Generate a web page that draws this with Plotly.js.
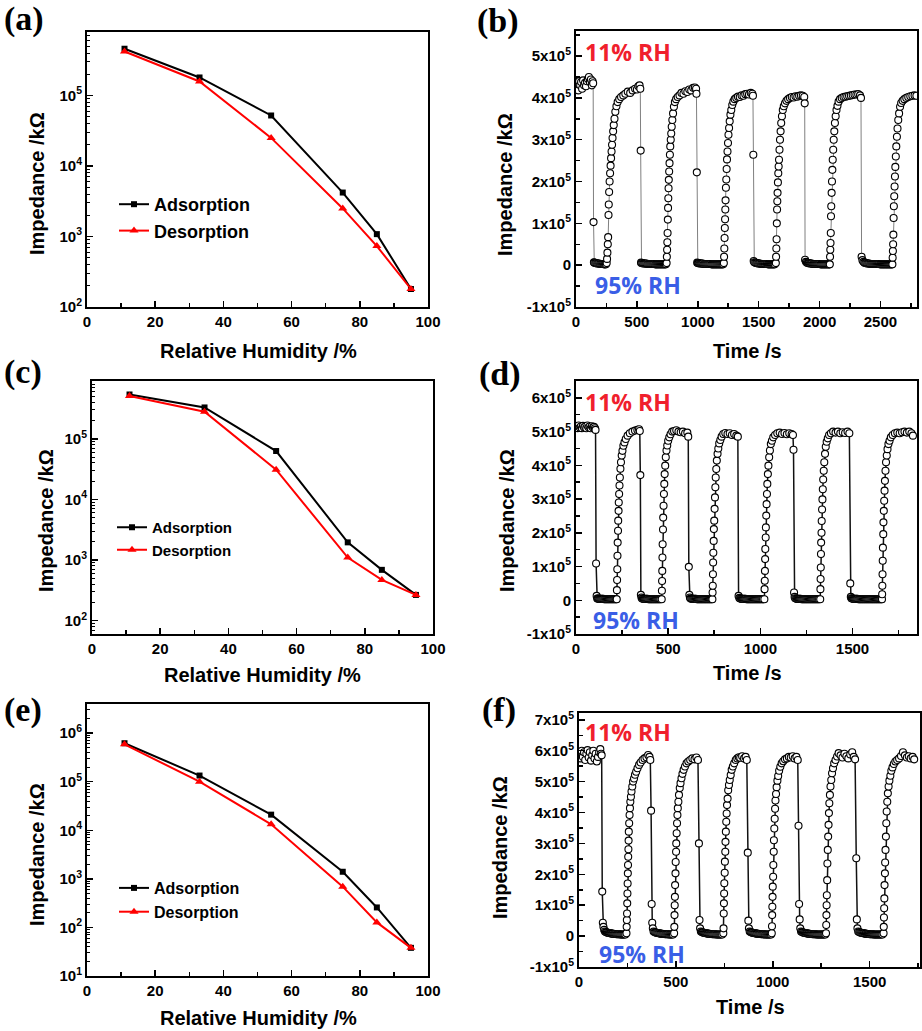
<!DOCTYPE html>
<html><head><meta charset="utf-8">
<script src="https://cdn.plot.ly/plotly-3.0.1.min.js"></script>
<style>html,body{margin:0;padding:0;background:#fff}#chart{width:922px;height:1031px}</style>
</head><body><div id="chart"></div><script>
// ---------- DATA ----------
const rh = [11, 33, 54, 75, 85, 95];
const aAds = [4.6e5, 1.8e5, 5.2e4, 4.2e3, 1.08e3, 180];
const aDes = [4.2e5, 1.58e5, 2.5e4, 2.5e3, 730, 180];
const cAds = [5.4e5, 3.3e5, 6.3e4, 1.96e3, 690, 266];
const cDes = [5.1e5, 2.8e5, 3.1e4, 1.1e3, 470, 266];
const eAds = [6.2e5, 1.34e5, 2.1e4, 1.4e3, 258, 38];
const eDes = [5.9e5, 1.0e5, 1.33e4, 690, 127, 38];
const legendNames = ['Adsorption', 'Desorption'];

// impedance in units of 1x10^5 kOhm
const bTime = [
 2,10,18,26,34,42,50,58,66,74,82,90,98,106,114,122,130,136,141,
 144,147,
 150,158,166,174,182,190,198,206,214,222,230,238,246,
 252,255,258,261,264,267,269,272,276,280,284,288,292,296,300,305,310,316,323,332,342,355,370,388,405,425,445,465,485,500,512,522,528,
 531,534,
 538,546,554,562,570,578,586,594,602,610,618,626,634,642,650,658,666,674,682,690,698,706,714,722,730,738,
 744,746,748,750,752,754,756,758,760,762,765,768,771,774,778,782,786,791,797,804,812,822,835,850,866,882,898,914,930,946,962,976,986,989,
 992,995,
 1000,1008,1016,1024,1032,1040,1048,1056,1064,1072,1080,1088,1096,1104,1112,1120,1128,1136,1144,1152,1160,1168,1176,1184,1192,1200,1208,
 1214,1216,1218,1220,1222,1224,1226,1228,1231,1234,1237,1240,1244,1248,1252,1257,1262,1268,1275,1283,1292,1303,1316,1330,1345,1360,1375,1390,1405,1420,1435,1448,1453,
 1456,1459,
 1464,1472,1480,1488,1496,1504,1512,1520,1528,1536,1544,1552,1560,1568,1576,1584,1592,1600,1608,1616,1624,1632,
 1641,1643,1645,1647,1649,1651,1653,1655,1658,1661,1664,1667,1671,1675,1680,1685,1691,1698,1706,1716,1728,1742,1757,1772,1787,1802,1817,1832,1847,1862,1874,1878,
 1881,
 1888,1896,1904,1912,1920,1928,1936,1944,1952,1960,1968,1976,1984,1992,2000,2008,2016,2024,2032,2040,2048,2056,2064,2072,2080,
 2084,2086,2088,2090,2092,2094,2096,2099,2102,2105,2108,2112,2116,2121,2126,2132,2139,2147,2156,2168,2182,2197,2212,2227,2242,2257,2272,2287,2302,2317,2332,2340,
 2345,
 2352,2360,2368,2376,2384,2392,2400,2408,2416,2424,2432,2440,2448,2456,2464,2472,2480,2488,2496,2504,2512,2520,2528,2536,2544,2552,2560,2568,2576,2584,2592,
 2598,2600,2602,2604,2606,2608,2610,2613,2616,2619,2622,2626,2630,2635,2640,2646,2653,2661,2670,2682,2696,2712,2728,2745,2762,2780,2795
];
const bImp = [
 4.25,4.35,4.18,4.4,4.3,4.38,4.22,4.42,4.3,4.36,4.28,4.4,4.45,4.5,4.38,4.44,4.3,4.4,4.35,
 1.03,0.07,
 0.06,0.05,0.05,0.04,0.04,0.04,0.03,0.03,0.03,0.03,0.02,0.02,0.02,
 0.05,0.15,0.3,0.5,0.67,1.2,1.45,1.75,2.0,2.2,2.38,2.56,2.72,2.88,3.04,3.2,3.35,3.5,3.67,3.8,3.9,3.97,4.02,4.06,4.1,4.15,4.12,4.18,4.22,4.2,4.28,4.3,4.22,
 2.74,0.06,
 0.05,0.05,0.04,0.04,0.04,0.04,0.03,0.03,0.03,0.03,0.03,0.03,0.03,0.03,0.02,0.02,0.02,0.02,0.02,0.02,0.02,0.02,0.02,0.02,0.02,0.02,
 0.05,0.2,0.37,0.55,0.77,1.09,1.37,1.6,1.84,2.04,2.24,2.44,2.64,2.84,3.0,3.15,3.31,3.47,3.63,3.79,3.9,3.97,4.02,4.06,4.12,4.1,4.16,4.14,4.2,4.18,4.24,4.25,4.22,4.1,
 2.22,0.06,
 0.05,0.05,0.04,0.04,0.04,0.04,0.03,0.03,0.03,0.03,0.03,0.03,0.03,0.03,0.02,0.02,0.02,0.02,0.02,0.02,0.02,0.02,0.02,0.02,0.02,0.02,0.02,
 0.05,0.2,0.4,0.65,0.89,1.1,1.33,1.55,1.85,2.05,2.3,2.53,2.72,2.92,3.12,3.28,3.44,3.6,3.71,3.83,3.91,3.97,4.0,4.03,4.02,4.06,4.05,4.09,4.1,4.08,4.12,4.1,4.05,
 2.64,0.1,
 0.07,0.06,0.05,0.05,0.04,0.04,0.04,0.03,0.03,0.03,0.03,0.03,0.03,0.03,0.02,0.02,0.02,0.02,0.02,0.02,0.02,0.02,
 0.05,0.2,0.4,0.62,1.0,1.33,1.53,1.73,1.98,2.2,2.36,2.52,2.76,3.0,3.2,3.4,3.56,3.71,3.8,3.87,3.93,3.97,4.0,4.02,4.01,4.04,4.03,4.05,4.06,4.05,4.02,3.87,
 0.13,
 0.08,0.06,0.05,0.05,0.04,0.04,0.04,0.03,0.03,0.03,0.03,0.03,0.03,0.03,0.03,0.02,0.02,0.02,0.02,0.02,0.02,0.02,0.02,0.02,0.02,
 0.02,0.2,0.37,0.53,0.77,1.17,1.41,1.73,2.0,2.28,2.52,2.76,3.0,3.2,3.4,3.56,3.71,3.81,3.91,3.97,4.0,4.02,4.03,4.04,4.05,4.06,4.07,4.08,4.08,4.09,4.06,4.0,
 0.2,
 0.12,0.08,0.06,0.05,0.05,0.04,0.04,0.04,0.03,0.03,0.03,0.03,0.03,0.03,0.03,0.03,0.03,0.03,0.02,0.02,0.02,0.02,0.02,0.02,0.02,0.02,0.02,0.02,0.02,0.02,0.02,
 0.02,0.18,0.34,0.5,0.73,1.13,1.41,1.65,1.88,2.12,2.35,2.6,2.84,3.07,3.27,3.47,3.63,3.79,3.88,3.93,3.97,4.0,4.02,4.04,4.05,4.06,4.05
];

const dTime = [
 2,8,14,20,26,32,38,44,50,56,62,68,74,80,86,92,98,103,106,
 109,112,115,
 118,123,128,133,138,143,148,153,158,163,168,173,178,183,188,193,198,203,208,213,218,
 221,222,223,224,225,226,228,229,231,232,234,236,238,241,244,248,252,257,263,270,280,292,306,320,333,342,346,
 349,352,355,
 358,363,368,373,378,383,388,393,398,403,408,413,418,423,428,433,438,443,448,453,458,
 465,466,467,468,469,470,472,473,475,477,479,481,484,487,491,495,500,506,513,522,532,544,556,568,580,592,604,609,
 612,615,618,
 621,626,631,636,641,646,651,656,661,666,671,676,681,686,691,696,701,706,711,716,721,726,731,736,
 740,741,742,743,744,745,747,748,750,752,754,756,758,761,764,768,772,777,783,790,799,810,822,834,846,858,870,878,
 882,886,
 890,895,900,905,910,915,920,925,930,935,940,945,950,955,960,965,970,975,980,985,990,995,1000,1005,1010,1015,
 1022,1023,1024,1025,1026,1027,1029,1030,1032,1034,1036,1038,1041,1044,1048,1052,1057,1063,1070,1080,1092,1105,1118,1131,1144,1157,1170,1177,
 1180,1183,1186,
 1189,1194,1199,1204,1209,1214,1219,1224,1229,1234,1239,1244,1249,1254,1259,1264,1269,1274,1279,1284,1289,1294,1299,1304,1309,1314,1319,
 1325,1326,1327,1328,1329,1330,1332,1333,1335,1337,1339,1341,1344,1347,1351,1355,1360,1366,1373,1383,1395,1408,1421,1434,1447,1460,1473,1483,
 1488,1491,1494,
 1497,1502,1507,1512,1517,1522,1527,1532,1537,1542,1547,1552,1557,1562,1567,1572,1577,1582,1587,1592,1597,1602,1607,1612,1617,1622,1627,1632,1637,1642,1647,1652,1657,
 1660,1661,1662,1663,1664,1665,1667,1668,1670,1672,1674,1676,1679,1682,1686,1690,1695,1701,1708,1718,1730,1743,1756,1769,1782,1795,1808,1820,1828
];
const dImp = [
 5.15,5.1,5.18,5.12,5.15,5.1,5.17,5.12,5.15,5.1,5.18,5.13,5.15,5.1,5.16,5.12,5.14,5.1,5.05,
 1.09,0.13,0.05,
 0.05,0.05,0.04,0.04,0.04,0.04,0.04,0.03,0.03,0.03,0.03,0.03,0.03,0.03,0.03,0.03,0.03,0.03,0.03,0.03,0.03,
 0.03,0.3,0.6,0.92,1.32,1.71,2.06,2.36,2.65,2.9,3.15,3.4,3.64,3.9,4.09,4.29,4.43,4.58,4.68,4.78,4.88,4.95,5.0,5.03,5.05,5.07,5.02,
 3.71,0.16,0.08,
 0.05,0.05,0.04,0.04,0.04,0.04,0.04,0.03,0.03,0.03,0.03,0.03,0.03,0.03,0.03,0.03,0.03,0.03,0.03,0.03,0.03,
 0.03,0.28,0.57,0.87,1.27,1.66,2.1,2.45,2.8,3.15,3.45,3.74,3.99,4.24,4.44,4.59,4.73,4.83,4.92,5.0,5.02,5.04,5.0,4.98,5.0,4.95,4.97,4.85,
 0.99,0.16,0.08,
 0.05,0.05,0.04,0.04,0.04,0.04,0.04,0.03,0.03,0.03,0.03,0.03,0.03,0.03,0.03,0.03,0.03,0.03,0.03,0.03,0.03,0.03,0.03,0.03,
 0.03,0.23,0.43,0.77,1.12,1.41,1.76,2.11,2.36,2.71,3.05,3.35,3.64,3.89,4.14,4.34,4.5,4.65,4.75,4.85,4.93,4.96,4.93,4.95,4.9,4.93,4.88,4.85,
 0.13,0.07,
 0.05,0.05,0.04,0.04,0.04,0.04,0.04,0.03,0.03,0.03,0.03,0.03,0.03,0.03,0.03,0.03,0.03,0.03,0.03,0.03,0.03,0.03,0.03,0.03,0.03,0.03,
 0.03,0.33,0.58,0.87,1.22,1.52,1.86,2.16,2.51,2.85,3.15,3.45,3.74,3.99,4.24,4.44,4.63,4.73,4.83,4.9,4.95,4.97,4.93,4.96,4.92,4.95,4.93,4.9,
 4.46,0.23,0.1,
 0.06,0.05,0.04,0.04,0.04,0.04,0.04,0.03,0.03,0.03,0.03,0.03,0.03,0.03,0.03,0.03,0.03,0.03,0.03,0.03,0.03,0.03,0.03,0.03,0.03,0.03,0.03,
 0.03,0.33,0.63,0.97,1.37,1.71,2.0,2.35,2.69,2.99,3.29,3.58,3.84,4.09,4.34,4.55,4.7,4.8,4.9,4.95,5.0,4.97,5.0,4.95,4.98,4.96,5.0,4.95,
 0.5,0.1,0.06,
 0.05,0.05,0.04,0.04,0.04,0.04,0.04,0.03,0.03,0.03,0.03,0.03,0.03,0.03,0.03,0.03,0.03,0.03,0.03,0.03,0.03,0.03,0.03,0.03,0.03,0.03,0.03,0.03,0.03,0.03,0.03,0.03,0.03,
 0.03,0.18,0.43,0.77,1.17,1.56,1.96,2.31,2.65,2.95,3.25,3.54,3.84,4.09,4.29,4.48,4.63,4.73,4.83,4.9,4.95,4.97,4.95,4.98,5.0,4.97,5.0,4.95,4.88
];

const fTime = [
 2,8,14,20,26,32,38,44,50,56,62,68,74,80,86,92,98,104,110,114,117,
 120,123,126,130,
 134,139,144,149,154,159,164,169,174,179,184,189,194,199,204,209,214,219,224,229,234,239,
 245,246,247,248,249,250,251,252,253,254,255,256,257,259,261,263,265,268,271,275,279,284,289,295,302,310,318,328,338,348,357,364,368,
 372,375,378,381,
 385,390,395,400,405,410,415,420,425,430,435,440,445,450,455,460,465,470,475,480,485,
 491,492,493,494,495,496,498,499,501,502,504,506,508,510,513,516,520,524,529,534,540,547,555,564,574,585,596,606,614,
 619,622,625,
 629,634,639,644,649,654,659,664,669,674,679,684,689,694,699,704,709,714,719,724,729,734,739,
 745,746,747,748,749,750,752,753,755,756,758,760,762,764,767,770,774,778,783,788,794,801,809,817,825,832,842,852,860,866,
 871,874,877,
 881,886,891,896,901,906,911,916,921,926,931,936,941,946,951,956,961,966,971,976,981,986,991,
 995,996,997,998,999,1000,1002,1003,1005,1006,1008,1010,1012,1014,1017,1020,1024,1028,1033,1039,1046,1054,1063,1073,1083,1093,1103,1113,1122,1129,
 1133,1136,1139,1142,
 1146,1151,1156,1161,1166,1171,1176,1181,1186,1191,1196,1201,1206,1211,1216,1221,1226,1231,1236,1241,1246,1251,1256,1261,1266,1271,
 1275,1276,1277,1278,1279,1281,1282,1284,1286,1288,1290,1292,1295,1298,1302,1306,1311,1317,1324,1332,1340,1350,1360,1370,1380,1390,1400,1410,1418,1425,
 1431,1434,1437,
 1441,1446,1451,1456,1461,1466,1471,1476,1481,1486,1491,1496,1501,1506,1511,1516,1521,1526,1531,1536,1541,1546,1551,1556,1561,1566,
 1572,1573,1574,1575,1576,1577,1579,1580,1582,1584,1586,1588,1591,1594,1598,1602,1607,1612,1618,1625,1633,1642,1652,1662,1672,1682,1692,1702,1712,1722,1730
];
const fImp = [
 5.9,5.75,6.0,5.8,5.95,5.7,5.9,6.02,5.78,5.95,5.68,5.85,6.0,5.75,5.9,5.65,5.8,5.95,6.05,5.9,5.85,
 1.44,0.43,0.3,0.2,
 0.15,0.13,0.12,0.11,0.1,0.09,0.09,0.08,0.08,0.07,0.07,0.07,0.06,0.06,0.06,0.06,0.05,0.05,0.05,0.05,0.05,0.05,
 0.09,0.3,0.52,0.73,1.06,1.38,1.7,2.03,2.3,2.57,2.81,3.09,3.38,3.65,3.92,4.14,4.35,4.51,4.68,4.84,5.0,5.1,5.22,5.32,5.43,5.54,5.62,5.7,5.75,5.79,5.86,5.8,5.7,
 4.06,1.04,0.43,0.25,
 0.15,0.13,0.12,0.11,0.1,0.09,0.09,0.08,0.08,0.07,0.07,0.07,0.06,0.06,0.06,0.06,0.05,0.05,0.05,0.05,0.05,
 0.09,0.3,0.68,1.0,1.27,1.65,2.03,2.4,2.73,3.0,3.33,3.65,3.92,4.14,4.35,4.57,4.79,4.95,5.11,5.25,5.38,5.49,5.59,5.65,5.7,5.75,5.72,5.78,5.7,
 3.0,0.52,0.25,
 0.15,0.13,0.12,0.11,0.1,0.09,0.09,0.08,0.08,0.07,0.07,0.07,0.06,0.06,0.06,0.06,0.05,0.05,0.05,0.05,0.05,0.05,0.05,
 0.09,0.25,0.73,1.06,1.38,1.71,2.05,2.41,2.73,3.05,3.38,3.7,3.97,4.24,4.45,4.72,4.89,5.05,5.21,5.38,5.49,5.59,5.7,5.75,5.79,5.77,5.82,5.75,5.8,5.7,
 2.7,0.5,0.25,
 0.15,0.13,0.12,0.11,0.1,0.09,0.09,0.08,0.08,0.07,0.07,0.07,0.06,0.06,0.06,0.06,0.05,0.05,0.05,0.05,0.05,0.05,0.05,
 0.09,0.32,0.68,0.95,1.27,1.6,1.92,2.3,2.73,3.1,3.48,3.8,4.12,4.39,4.6,4.82,5.03,5.18,5.35,5.48,5.59,5.66,5.72,5.75,5.8,5.78,5.82,5.75,5.8,5.7,
 3.57,1.04,0.54,0.25,
 0.15,0.13,0.12,0.11,0.1,0.09,0.09,0.08,0.08,0.07,0.07,0.07,0.06,0.06,0.06,0.06,0.05,0.05,0.05,0.05,0.05,0.05,0.05,0.05,0.05,0.05,
 0.09,0.36,0.68,1.0,1.32,1.81,2.35,2.79,3.22,3.6,3.98,4.3,4.57,4.84,5.05,5.27,5.43,5.59,5.7,5.81,5.92,5.85,5.78,5.9,5.82,5.75,5.88,5.95,5.8,5.72,
 2.52,0.54,0.25,
 0.15,0.13,0.12,0.11,0.1,0.09,0.09,0.08,0.08,0.07,0.07,0.07,0.06,0.06,0.06,0.06,0.05,0.05,0.05,0.05,0.05,0.05,0.05,0.05,0.05,0.05,
 0.09,0.3,0.6,0.9,1.22,1.65,2.03,2.38,2.79,3.22,3.65,4.03,4.35,4.62,4.84,5.03,5.19,5.35,5.46,5.57,5.65,5.7,5.75,5.83,5.95,5.85,5.78,5.82,5.75,5.8,5.72
];

// tick labels
const logTickVals = [10, 100, 1e3, 1e4, 1e5, 1e6];
const logTickText = ['10<sup>1</sup>', '10<sup>2</sup>', '10<sup>3</sup>', '10<sup>4</sup>', '10<sup>5</sup>', '10<sup>6</sup>'];
const linTickVals = [-1, 0, 1, 2, 3, 4, 5, 6, 7];
const linTickText = ['-1x10<sup>5</sup>', '0', '1x10<sup>5</sup>', '2x10<sup>5</sup>', '3x10<sup>5</sup>', '4x10<sup>5</sup>', '5x10<sup>5</sup>', '6x10<sup>5</sup>', '7x10<sup>5</sup>'];

// ---------- LAYOUT ----------
const W = 922, H = 1031;
const px = x => x / W, py = y => 1 - y / H;
const box = {
  a: [87, 428, 32, 307], b: [576, 917, 31, 307],
  c: [92, 433, 381, 634], d: [576, 917, 381, 634],
  e: [87, 428, 704, 976], f: [579, 920, 713, 967]
};
const minorLog = [];
for (let p = 0; p <= 6; p++) for (let k = 2; k <= 9; k++) minorLog.push(k * Math.pow(10, p));

const tickFont = {family: 'Liberation Sans, Arial, sans-serif', size: 15, color: '#000', weight: 'bold'};
function ax(extra) {
  return Object.assign({
    showline: true, linecolor: '#000', linewidth: 2, mirror: true,
    ticks: 'inside', ticklen: 6, tickwidth: 1.5, tickcolor: '#000',
    showgrid: false, zeroline: false, tickfont: tickFont, fixedrange: true
  }, extra);
}
function dom(k) { const b = box[k]; return {x: [px(b[0]), px(b[1])], y: [py(b[3]), py(b[2])]}; }
function rhX(k, anchor) {
  return ax({domain: dom(k).x, anchor: anchor, range: [0, 100], tickmode: 'linear', tick0: 0, dtick: 20,
    minor: {ticks: 'inside', ticklen: 4, tickwidth: 1.5, tickcolor: '#000', dtick: 10, tick0: 0}});
}
function logY(k, anchor, r) {
  return ax({domain: dom(k).y, anchor: anchor, type: 'log', range: r, tickmode: 'array',
    tickvals: logTickVals, ticktext: logTickText,
    minor: {ticks: 'inside', ticklen: 3, tickwidth: 1, tickcolor: '#000', tickmode: 'array', tickvals: minorLog}});
}
function timeX(k, anchor, r) {
  return ax({domain: dom(k).x, anchor: anchor, range: r, tickmode: 'linear', tick0: 0, dtick: 500,
    minor: {ticks: 'inside', ticklen: 4, tickwidth: 1.5, tickcolor: '#000', dtick: 250, tick0: 0}});
}
function linY(k, anchor, r) {
  return ax({domain: dom(k).y, anchor: anchor, range: r, tickmode: 'array',
    tickvals: linTickVals, ticktext: linTickText,
    minor: {ticks: 'inside', ticklen: 4, tickwidth: 1.5, tickcolor: '#000', dtick: 0.5, tick0: 0}});
}

const adsStyle = {mode: 'lines+markers', line: {color: '#000', width: 2}, marker: {symbol: 'square', size: 6, color: '#000'}};
const desStyle = {mode: 'lines+markers', line: {color: '#ff0000', width: 2}, marker: {symbol: 'triangle-up', size: 8, color: '#ff0000'}};
function tsStyle(lc, lw) {
  return {mode: 'lines+markers', showlegend: false, line: {color: lc, width: lw},
    marker: {symbol: 'circle', size: 7, color: '#fff', line: {color: '#000', width: 1.1}}};
}

const data = [
  Object.assign({x: rh, y: aAds, name: legendNames[0], xaxis: 'x', yaxis: 'y', legend: 'legend'}, adsStyle),
  Object.assign({x: rh, y: aDes, name: legendNames[1], xaxis: 'x', yaxis: 'y', legend: 'legend'}, desStyle),
  Object.assign({x: bTime, y: bImp, xaxis: 'x2', yaxis: 'y2'}, tsStyle('#808080', 1)),
  Object.assign({x: rh, y: cAds, name: legendNames[0], xaxis: 'x3', yaxis: 'y3', legend: 'legend2'}, adsStyle),
  Object.assign({x: rh, y: cDes, name: legendNames[1], xaxis: 'x3', yaxis: 'y3', legend: 'legend2'}, desStyle),
  Object.assign({x: dTime, y: dImp, xaxis: 'x4', yaxis: 'y4'}, tsStyle('#111', 1.5)),
  Object.assign({x: rh, y: eAds, name: legendNames[0], xaxis: 'x5', yaxis: 'y5', legend: 'legend3'}, adsStyle),
  Object.assign({x: rh, y: eDes, name: legendNames[1], xaxis: 'x5', yaxis: 'y5', legend: 'legend3'}, desStyle),
  Object.assign({x: fTime, y: fImp, xaxis: 'x6', yaxis: 'y6'}, tsStyle('#111', 1.5))
];

const titleFont = {family: 'Liberation Sans, Arial, sans-serif', size: 20, color: '#000', weight: 'bold'};
const labelFont = {family: 'Liberation Serif, Times New Roman, serif', size: 34, color: '#000', weight: 'bold'};
const redFont = {family: 'Open Sans, sans-serif', size: 23, color: '#f0202c', weight: 'bold'};
const blueFont = {family: 'Open Sans, sans-serif', size: 23, color: '#3a5ee6', weight: 'bold'};

const annotations = [];
function ann(text, x, y, font, opts) {
  annotations.push(Object.assign({text: text, xref: 'paper', yref: 'paper', x: px(x), y: py(y),
    showarrow: false, font: font, xanchor: 'center', yanchor: 'middle'}, opts || {}));
}
// panel labels
[['(a)', 2, 19], ['(b)', 475, 21], ['(c)', 2, 372], ['(d)', 477, 374], ['(e)', 2, 710], ['(f)', 480, 710]]
  .forEach(p => ann(p[0], p[1], p[2], labelFont, {xanchor: 'left'}));
// x-axis titles
ann('Relative Humidity /%', 258, 351, titleFont);
ann('Time /s', 747, 351, titleFont);
ann('Relative Humidity /%', 262, 675, titleFont);
ann('Time /s', 747, 673, titleFont);
ann('Relative Humidity /%', 258, 1018, titleFont);
ann('Time /s', 750, 1007, titleFont);
// y-axis titles
[[37, 184], [505, 185], [46, 521], [507, 521], [37, 855], [500, 848]]
  .forEach(p => ann('Impedance /kΩ', p[0], p[1], titleFont, {textangle: -90}));
// RH labels
[[583, 52], [583, 402], [583, 732]].forEach(p => ann('11% RH', p[0], p[1], redFont, {xanchor: 'left'}));
[[593, 285], [591, 620], [597, 954]].forEach(p => ann('95% RH', p[0], p[1], blueFont, {xanchor: 'left'}));

function leg(x, y, size) {
  return {x: px(x), y: py(y), xanchor: 'left', yanchor: 'top', bgcolor: 'rgba(0,0,0,0)', borderwidth: 0,
    font: {family: 'Liberation Sans, Arial, sans-serif', size: size, color: '#000', weight: 'bold'}, tracegroupgap: 0};
}

const layout = {
  width: W, height: H, margin: {l: 0, r: 0, t: 0, b: 0},
  paper_bgcolor: '#fff', plot_bgcolor: '#fff', showlegend: true,
  xaxis: rhX('a', 'y'), yaxis: logY('a', 'x', [2, 5.9]),
  xaxis2: timeX('b', 'y2', [0, 2800]), yaxis2: linY('b', 'x2', [-1, 5.6]),
  xaxis3: rhX('c', 'y3'), yaxis3: logY('c', 'x3', [1.78, 5.955]),
  xaxis4: timeX('d', 'y4', [0, 1850]), yaxis4: linY('d', 'x4', [-1, 6.5]),
  xaxis5: rhX('e', 'y5'), yaxis5: logY('e', 'x5', [1, 6.6]),
  xaxis6: timeX('f', 'y6', [0, 1760]), yaxis6: linY('f', 'x6', [-1, 7.22]),
  legend: leg(114, 186, 18), legend2: leg(112, 511, 15), legend3: leg(114, 871, 16),
  annotations: annotations
};

Plotly.newPlot('chart', data, layout, {displayModeBar: false, staticPlot: true});
</script></body></html>
